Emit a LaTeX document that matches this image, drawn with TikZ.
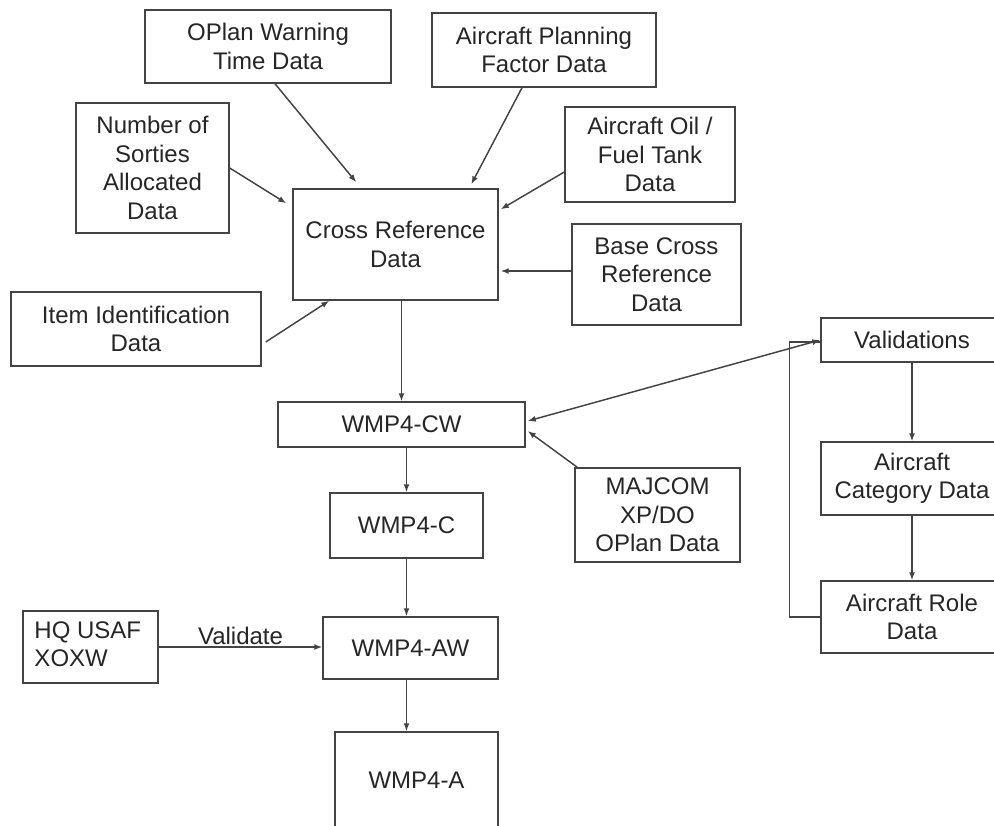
\documentclass[tikz,border=0pt]{standalone}
\usepackage{fontspec}
\setmainfont{Liberation Sans}
\usetikzlibrary{arrows.meta,calc}
\def\p{0.75pt}
\definecolor{ln}{HTML}{444444}
\definecolor{tx}{HTML}{262626}
\tikzset{
  box/.style={draw=ln, line width=1.1pt, inner sep=0pt, align=center, text=tx,
    font=\fontsize{18}{21.4}\selectfont},
  conn/.style={draw=ln, line width=1.1pt, -{Latex[length=6pt,width=4.5pt]}},
  plain/.style={draw=ln, line width=1.1pt},
}
\newcommand\bx[6]{\node[box, minimum width={(#4-#2)*0.75pt}, minimum height={(#5-#3)*0.75pt}] (#1) at ({(#2+#4)/2},{(#3+#5)/2}) {#6};}
\begin{document}
\begin{tikzpicture}[x=0.75pt,y=-0.75pt]
\useasboundingbox (0,0) rectangle (994,825);
\fill[white] (0,0) rectangle (994,825);
\clip (0,0) rectangle (994,825);
\bx{oplan}{145}{10}{391}{83}{OPlan Warning\\Time Data}
\bx{apf}{432}{13}{656}{87}{Aircraft Planning\\Factor Data}
\bx{nsa}{76}{103}{229}{233}{Number of\\Sorties\\Allocated\\Data}
\bx{oil}{565}{107}{735}{202}{Aircraft Oil /\\Fuel Tank\\Data}
\bx{cr}{293}{189}{498}{300}{Cross Reference\\Data}
\bx{base}{572}{224}{741}{325}{Base Cross\\Reference\\Data}
\bx{item}{11}{292}{261}{366}{Item Identification\\Data}
\bx{val}{821}{318}{1003}{362}{Validations}
\bx{cw}{278}{402}{525}{447}{WMP4-CW}
\bx{maj}{575}{468}{740}{562}{MAJCOM\\XP/DO\\OPlan Data}
\bx{c}{330}{493}{483}{558}{WMP4-C}
\bx{cat}{821}{442}{1003}{515}{Aircraft\\Category Data}
\bx{role}{821}{581}{1003}{653}{Aircraft Role\\Data}
\bx{hq}{23}{611}{158}{683}{\begin{tabular}{@{}l@{}}HQ USAF\\XOXW\end{tabular}\hspace*{4pt}}
\bx{aw}{323}{617}{498}{679}{WMP4-AW}
\bx{a}{335}{732}{498}{828}{WMP4-A}
% connectors
\draw[conn] ([xshift=7*\p]oplan.south) -- ([xshift=64*\p,yshift=6*\p]cr.north west);
\draw[conn] ([xshift=-22*\p]apf.south) -- ([xshift=179*\p,yshift=4*\p]cr.north west);
\draw[conn] (nsa.east) -- ([xshift=-6*\p,yshift=-15*\p]cr.north west);
\draw[conn] ([yshift=-17.5*\p]oil.west) -- ([xshift=2*\p,yshift=-21*\p]cr.north east);
\draw[conn] ([yshift=3.5*\p]base.west) -- ([xshift=2*\p,yshift=-26.5*\p]cr.east);
\draw[conn] ([xshift=4*\p,yshift=-13*\p]item.east) -- ([xshift=37*\p]cr.south west);
\draw[conn] (cr.south -| cw.north) -- (cw.north);
\draw[conn] (cw.south -| c.north) -- (c.north);
\draw[conn] (c.south) -- (c.south |- aw.north);
\draw[conn] (c.south |- aw.south) -- (c.south |- a.north);
\draw[conn] (hq.east) -- node[above, text=tx, font=\fontsize{18}{21.4}\selectfont, inner sep=1pt] {Validate} (hq.east -| aw.west);
\draw[conn] ([xshift=3*\p]maj.north west) -- ([xshift=2*\p,yshift=-6.5*\p]cw.east);
\draw[conn, {Latex[length=6pt,width=4.5pt]}-{Latex[length=6pt,width=4.5pt]}] ([xshift=2*\p,yshift=3.5*\p]cw.east) -- (val.west);
\draw[conn] (val.south) -- (cat.north);
\draw[conn] (cat.south) -- (role.north);
\draw[plain] (role.west) -- ++(-31,0) |- ([yshift=-2*\p]val.west);
\end{tikzpicture}
\end{document}
